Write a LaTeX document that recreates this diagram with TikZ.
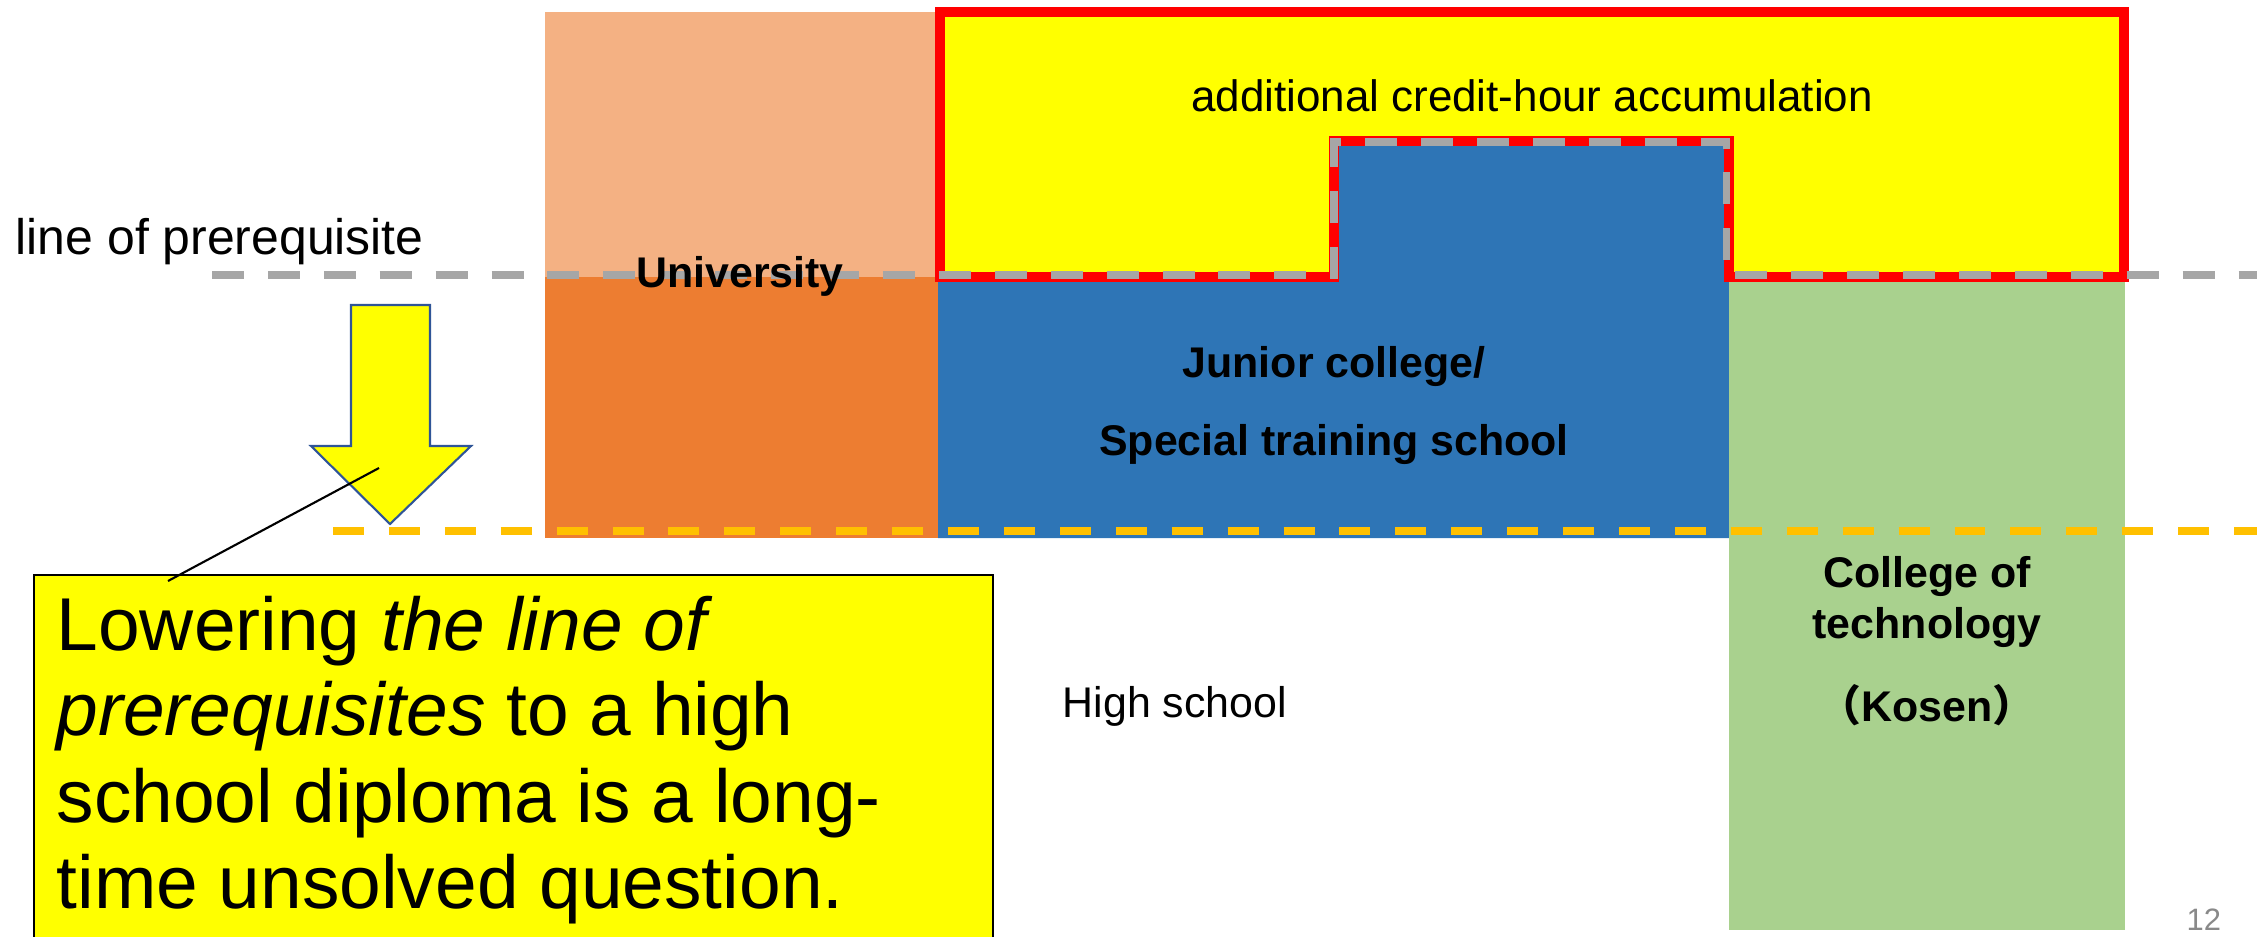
\documentclass[tikz,border=0pt]{standalone}
\usepackage{fontspec}
\setmainfont{Liberation Sans}
\newfontfamily\cjk{Noto Sans CJK JP}
\definecolor{univlight}{HTML}{F4B183}
\definecolor{univdark}{HTML}{ED7D31}
\definecolor{jcblue}{HTML}{2E75B6}
\definecolor{kosengreen}{HTML}{A9D18E}
\definecolor{creditfill}{HTML}{FFFF00}
\definecolor{lineorange}{HTML}{FFC000}
\definecolor{linegrey}{HTML}{A6A6A6}
\definecolor{arrowblue}{HTML}{2F5597}
\definecolor{pagegrey}{HTML}{898989}
\tikzset{
  greydash/.style={draw=linegrey, line width=2pt, dash pattern=on 9.1pt off 6.8pt},
  orangedash/.style={draw=lineorange, line width=2pt, dash pattern=on 8.8pt off 7.1pt},
  plainlabel/.style={inner sep=0pt, font=\fontsize{12.2}{14}\selectfont},
  boldlabel/.style={inner sep=0pt, anchor=base, font=\fontsize{12.2}{14}\selectfont\bfseries},
  calloutline/.style={inner sep=0pt, anchor=base west, font=\fontsize{21.3}{25}\selectfont},
}
\begin{document}
\begin{tikzpicture}[x=0.01cm,y=-0.01cm]
	\useasboundingbox (0,0) rectangle (2257,936);
	% school blocks
	\fill[univlight] (545,12) rectangle (938,277);
	\fill[univdark] (545,277) rectangle (938,538);
	\fill[jcblue] (938,277) -- (1334,277) -- (1334,141) -- (1729,141) -- (1729,538) -- (938,538) -- cycle;
	\fill[kosengreen] (1729,277) rectangle (2125,930);
	% credit-hour region
	\filldraw[fill=creditfill, draw=red, line width=3.1pt] (940,12) -- (2124,12) -- (2124,277) -- (1729,277)
		-- (1729,141) -- (1334,141) -- (1334,277) -- (940,277) -- cycle;
	% lines of prerequisite
	\draw[greydash] (212,275) -- (1334,275) -- (1334,142) -- (1726,142) -- (1726,275) -- (2257,275);
	\draw[orangedash] (333,531) -- (2257,531);
	% arrow and callout
	\filldraw[fill=creditfill, draw=arrowblue, line width=0.6pt] (351,305) -- (430,305) -- (430,446) -- (471,446)
		-- (390,524) -- (311,446) -- (351,446) -- cycle;
	\coordinate (leadtip) at (379,468);
	\coordinate (leadend) at (168,581);
	\draw[fill=creditfill, line width=0.6pt] (34,575) rectangle (993,960);
	\draw[line width=0.6pt] (leadtip) -- (leadend);
	% labels
	\node[plainlabel, anchor=base west, font=\fontsize{14.2}{17}\selectfont] (prereq) at (15,254) {line of prerequisite};
	\node[plainlabel, anchor=base, font=\fontsize{12.5}{15}\selectfont] (credit) at (1532,111) {additional credit-hour accumulation};
	\node[boldlabel] (univ) at (740,287) {University};
	\node[boldlabel] (junior) at (1334,377) {Junior college/};
	\node[boldlabel] (special) at (1334,455) {Special training school};
	\node[boldlabel] (kosen1) at (1927,587) {College of};
	\node[boldlabel] (kosen2) at (1927,638) {technology};
	\node[boldlabel] (kosen3) at (1927,721) {{\cjk （}Kosen{\cjk ）}};
	\node[plainlabel, anchor=base west] (high) at (1062,717) {High school};
	\node[plainlabel, anchor=base west, font=\fontsize{8.8}{10}\selectfont, text=pagegrey] (page) at (2186,930) {12};
	\node[calloutline] (call1) at (56,650) {Lowering \textit{the line of}};
	\node[calloutline] (call2) at (56,735) {\textit{prerequisites} to a high};
	\node[calloutline] (call3) at (56,822) {school diploma is a long-};
	\node[calloutline] (call4) at (56,908) {time unsolved question.};
\end{tikzpicture}
\end{document}
